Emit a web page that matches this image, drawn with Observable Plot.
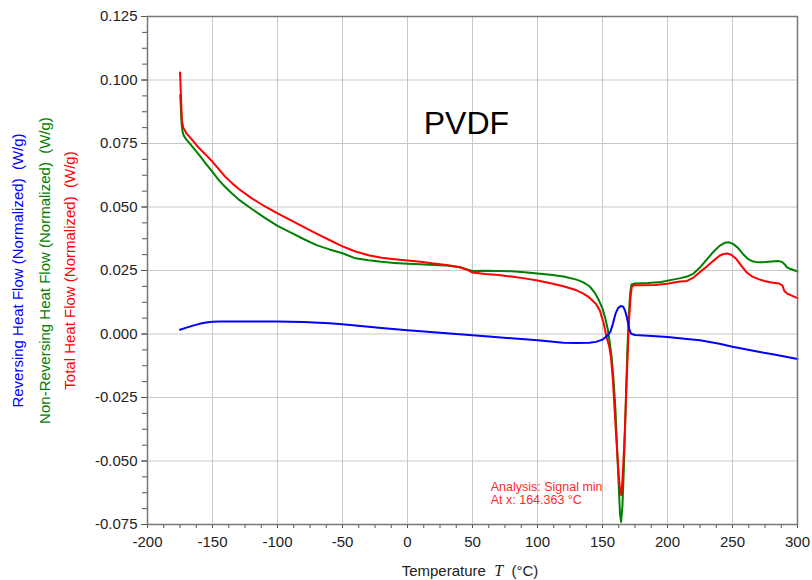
<!DOCTYPE html>
<html>
<head>
<meta charset="utf-8">
<script src="https://cdn.jsdelivr.net/npm/d3@7"></script>
<script src="https://cdn.jsdelivr.net/npm/@observablehq/plot@0.6"></script>
<style>
  html, body { margin: 0; padding: 0; background: #fff; }
</style>
</head>
<body>
<div id="chart"></div>
<script>
// ---- Tick labels ----
const xTicks = [-200, -150, -100, -50, 0, 50, 100, 150, 200, 250, 300];
const yTicks = [-0.075, -0.050, -0.025, 0.000, 0.025, 0.050, 0.075, 0.100, 0.125];

// ---- Series: [temperature °C, heat flow W/g] ----
const totalHeatFlow = [
  [-175, 0.1030], [-174.6, 0.0980], [-174, 0.0900], [-173.5, 0.0840], [-172.5, 0.0812],
  [-170, 0.0790], [-165, 0.0760], [-160, 0.0730], [-155, 0.0705], [-150, 0.0678],
  [-145, 0.0648], [-140, 0.0618], [-135, 0.0594], [-130, 0.0572], [-120, 0.0535],
  [-110, 0.0503], [-100, 0.0475], [-90, 0.0448], [-80, 0.0422], [-70, 0.0395],
  [-60, 0.0370], [-50, 0.0345], [-40, 0.0325], [-30, 0.0310], [-20, 0.0300],
  [-10, 0.0294], [0, 0.0289], [10, 0.0284], [20, 0.0278], [30, 0.0272],
  [40, 0.0263], [45, 0.0255], [50, 0.0242], [60, 0.0236], [70, 0.0232],
  [80, 0.0226], [90, 0.0219], [100, 0.0211], [110, 0.0200], [120, 0.0188],
  [130, 0.0172], [135, 0.0160], [140, 0.0143], [145, 0.0118], [148, 0.0092],
  [151, 0.0040], [153, -0.0010], [155, -0.0045], [156.5, -0.0090], [158, -0.0180],
  [159, -0.0270], [160.5, -0.0400], [162, -0.0520], [163.2, -0.0600], [164.4, -0.0635],
  [165.4, -0.0570], [166.5, -0.0460], [167.5, -0.0340], [168.5, -0.0200], [169.5, -0.0060],
  [170.5, 0.0060], [171.5, 0.0140], [172.5, 0.0185], [174, 0.0192], [180, 0.0192],
  [190, 0.0193], [200, 0.0198], [205, 0.0203], [210, 0.0207], [215, 0.0209],
  [220, 0.0222], [225, 0.0244], [230, 0.0265], [235, 0.0287], [240, 0.0308],
  [243, 0.0315], [246, 0.0317], [249, 0.0312], [253, 0.0295], [257, 0.0267],
  [261, 0.0242], [265, 0.0227], [270, 0.0216], [275, 0.0208], [280, 0.0203],
  [286, 0.0199], [288.5, 0.0190], [290, 0.0168], [292, 0.0159], [296, 0.0150],
  [300, 0.0141]
];

const nonReversingHeatFlow = [
  [-174.8, 0.0940], [-174.3, 0.0890], [-173.8, 0.0830], [-173, 0.0795], [-172, 0.0780],
  [-170, 0.0765], [-165, 0.0735], [-160, 0.0703], [-155, 0.0670], [-150, 0.0638],
  [-145, 0.0605], [-140, 0.0578], [-135, 0.0553], [-130, 0.0530], [-120, 0.0493],
  [-110, 0.0458], [-100, 0.0426], [-90, 0.0400], [-80, 0.0374], [-70, 0.0350],
  [-60, 0.0333], [-50, 0.0318], [-40, 0.0298], [-30, 0.0290], [-20, 0.0284],
  [-10, 0.0280], [0, 0.0277], [10, 0.0275], [20, 0.0272], [30, 0.0270],
  [40, 0.0264], [45, 0.0255], [50, 0.0248], [60, 0.0249], [70, 0.0248],
  [80, 0.0247], [90, 0.0243], [100, 0.0238], [110, 0.0233], [120, 0.0226],
  [130, 0.0214], [135, 0.0204], [140, 0.0188], [144, 0.0163], [147, 0.0135],
  [150, 0.0100], [152, 0.0065], [154, 0.0020], [155.5, -0.0030], [157, -0.0090],
  [158.5, -0.0180], [160, -0.0300], [161.3, -0.0460], [162.5, -0.0600], [163.5, -0.0710],
  [164.3, -0.0740], [165.3, -0.0680], [166.3, -0.0550], [167.3, -0.0380], [168.3, -0.0200],
  [169.3, -0.0040], [170.3, 0.0080], [171.3, 0.0160], [172.3, 0.0195], [175, 0.0199],
  [185, 0.0201], [195, 0.0205], [200, 0.0210], [205, 0.0215], [210, 0.0220],
  [215, 0.0226], [220, 0.0238], [225, 0.0262], [230, 0.0292], [235, 0.0322],
  [240, 0.0347], [244, 0.0359], [247, 0.0361], [250, 0.0356], [254, 0.0340],
  [258, 0.0315], [262, 0.0295], [266, 0.0285], [270, 0.0282], [275, 0.0283],
  [280, 0.0285], [285, 0.0287], [288, 0.0284], [290, 0.0275], [292, 0.0262],
  [294, 0.0257], [297, 0.0252], [300, 0.0246]
];

const reversingHeatFlow = [
  [-175, 0.0017], [-170, 0.0025], [-165, 0.0033], [-160, 0.0040], [-155, 0.0045],
  [-150, 0.0048], [-145, 0.0049], [-140, 0.0049], [-120, 0.0049], [-100, 0.0049],
  [-80, 0.0047], [-60, 0.0042], [-50, 0.0038], [-40, 0.0033], [-20, 0.0024],
  [0, 0.0015], [20, 0.0007], [40, -0.0001], [50, -0.0005], [60, -0.0009],
  [80, -0.0017], [100, -0.0025], [110, -0.0030], [120, -0.0034], [130, -0.0035],
  [140, -0.0034], [145, -0.0031], [150, -0.0022], [153, -0.0010], [156, 0.0008],
  [158, 0.0040], [160, 0.0080], [162, 0.0102], [164, 0.0110], [166, 0.0107],
  [167.5, 0.0090], [169, 0.0060], [170.5, 0.0020], [172, 0.0001], [175, -0.0004],
  [185, -0.0007], [200, -0.0012], [215, -0.0020], [225, -0.0025], [240, -0.0038],
  [250, -0.0050], [260, -0.0060], [270, -0.0070], [280, -0.0079], [290, -0.0089],
  [300, -0.0098]
];

// ---- Texts ----
const titleText = "PVDF";
const yLabelReversing = "Reversing Heat Flow (Normalized)\u00a0 (W/g)";
const yLabelNonReversing = "Non-Reversing Heat Flow (Normalized)\u00a0 (W/g)";
const yLabelTotal = "Total Heat Flow (Normalized)\u00a0 (W/g)";
const annotationLines = "Analysis: Signal min\nAt x: 164.363 °C";
const annotationAt = {x: 64, y: -0.0583};
const titleAt = {x: 12.5, y: 0.0826};

const minorX = d3.range(-200, 300.01, 12.5);
const minorY = d3.range(-75, 125.01, 6.25).map(v => v / 1000);

const C_BLUE = "#0000ff", C_GREEN = "#008000", C_RED = "#ff0000";
const fx = d => d[0], fy = d => d[1];

const plot = Plot.plot({
  width: 812,
  height: 580,
  marginLeft: 147,
  marginRight: 15,
  marginTop: 16,
  marginBottom: 56,
  style: {fontFamily: "'Liberation Sans', Arial, sans-serif", fontSize: "15px", background: "#fff", color: "#222"},
  x: {domain: [-200, 300]},
  y: {domain: [-0.075, 0.125]},
  marks: [
    Plot.gridX(xTicks, {stroke: "#c8c8c8", strokeOpacity: 1, strokeWidth: 1}),
    Plot.gridY(yTicks, {stroke: "#c8c8c8", strokeOpacity: 1, strokeWidth: 1}),
    Plot.axisX(minorX, {tickSize: 4, tickFormat: () => "", label: null, stroke: "#555"}),
    Plot.axisX(xTicks, {tickSize: 4, tickPadding: 8, tickFormat: d => String(d), label: null, stroke: "#555", fill: "#222", fontSize: 15}),
    Plot.axisY(minorY, {tickSize: 5, tickFormat: () => "", label: null, stroke: "#555"}),
    Plot.axisY(yTicks, {tickSize: 6, tickPadding: 4, tickFormat: d => d.toFixed(3), label: null, stroke: "#555", fill: "#222", fontSize: 15}),
    Plot.line(nonReversingHeatFlow, {x: fx, y: fy, stroke: C_GREEN, strokeWidth: 2}),
    Plot.line(totalHeatFlow, {x: fx, y: fy, stroke: C_RED, strokeWidth: 2}),
    Plot.line(reversingHeatFlow, {x: fx, y: fy, stroke: C_BLUE, strokeWidth: 2}),
    Plot.frame({stroke: "#777", strokeWidth: 1.5}),
    Plot.text([titleText], {x: titleAt.x, y: titleAt.y, text: d => d, textAnchor: "start", fontSize: 32, fill: "#000"}),
    Plot.text([annotationLines], {x: annotationAt.x, y: annotationAt.y, text: d => d, textAnchor: "start", lineAnchor: "top", fontSize: 12.5, fill: "#ff2a2a", lineHeight: 1.02}),
    Plot.text([yLabelReversing], {frameAnchor: "left", dx: -129, rotate: -90, textAnchor: "middle", text: d => d, fill: C_BLUE, fontSize: 15}),
    Plot.text([yLabelNonReversing], {frameAnchor: "left", dx: -102, rotate: -90, textAnchor: "middle", text: d => d, fill: C_GREEN, fontSize: 15}),
    Plot.text([yLabelTotal], {frameAnchor: "left", dx: -77, rotate: -90, textAnchor: "middle", text: d => d, fill: C_RED, fontSize: 15})
  ]
});

// x-axis title with italic symbol
const svg = d3.select(plot);
const xl = svg.append("text")
  .attr("x", 470).attr("y", 576)
  .attr("text-anchor", "middle")
  .attr("font-size", 15)
  .attr("fill", "#222")
  .attr("xml:space", "preserve");
xl.append("tspan").text("Temperature  ");
xl.append("tspan").attr("font-family", "'Liberation Serif', 'DejaVu Serif', serif").attr("font-style", "italic").attr("font-size", 16).text("T");
xl.append("tspan").text("  (°C)");

document.getElementById("chart").appendChild(plot);
</script>
</body>
</html>
